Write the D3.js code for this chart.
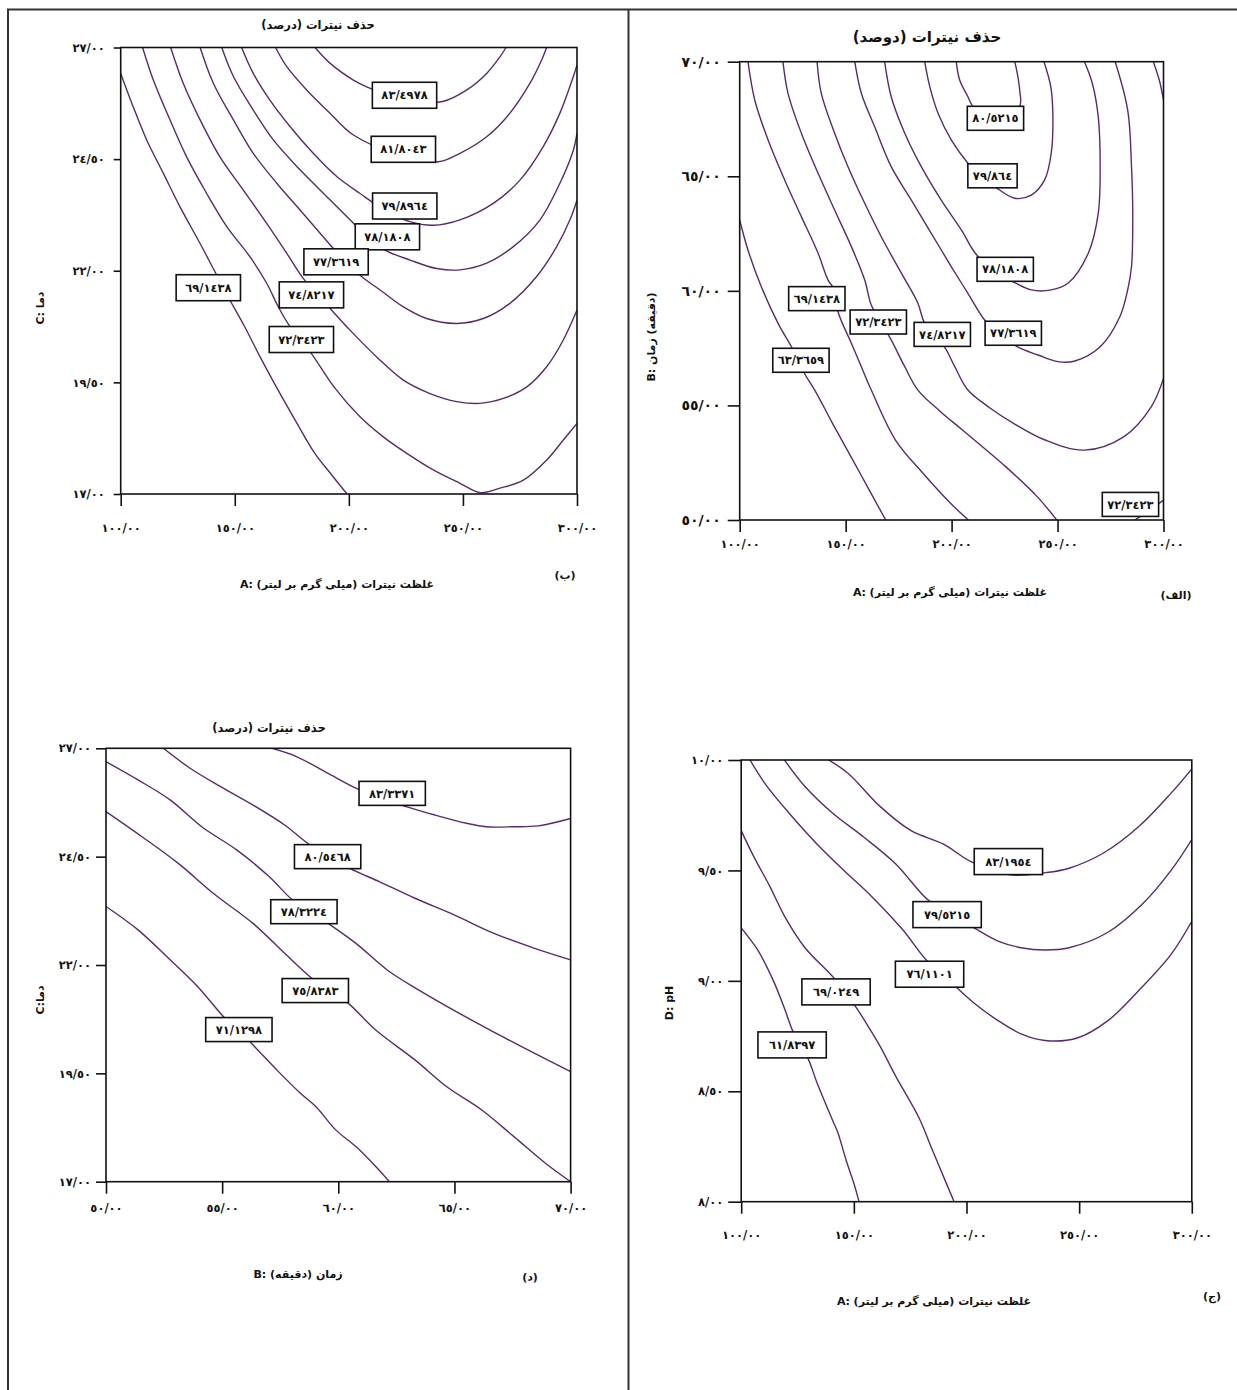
<!DOCTYPE html>
<html>
<head>
<meta charset="utf-8">
<script src="https://cdn.jsdelivr.net/npm/d3@7"></script>
<style>
  body { margin: 0; background: #fff; }
  svg text { font-family: "DejaVu Sans", sans-serif; font-weight: bold; fill: #111; }
</style>
</head>
<body>
<div id="chart"></div>
<script>
// ---- tick values + labels (persian style, "/" as decimal mark)
const ticksA = [100, 150, 200, 250, 300]
const ticksALabels = ['١٠٠/٠٠', '١٥٠/٠٠', '٢٠٠/٠٠', '٢٥٠/٠٠', '٣٠٠/٠٠']
const ticksB = [50, 55, 60, 65, 70]
const ticksBLabels = ['٥٠/٠٠', '٥٥/٠٠', '٦٠/٠٠', '٦٥/٠٠', '٧٠/٠٠']
const ticksC = [17, 19.5, 22, 24.5, 27]
const ticksCLabels = ['١٧/٠٠', '١٩/٥٠', '٢٢/٠٠', '٢٤/٥٠', '٢٧/٠٠']
const ticksD = [8, 8.5, 9, 9.5, 10]
const ticksDLabels = ['٨/٠٠', '٨/٥٠', '٩/٠٠', '٩/٥٠', '١٠/٠٠']

// ---- (الف) A vs B contours, [A, B]
const abC633659 = [[100,63.09],[103.9,61.78],[110.2,60.18],[118.1,58.58],[124.4,57.56],[130.7,56.37],[135.4,55.67],[143.8,54.22],[156.8,52.04],[168.9,50]]
const abC691438 = [[103.9,70],[107.1,68.33],[113.4,66.58],[121.2,64.84],[129.1,63.24],[137.0,61.64],[141.7,60.47],[144.8,60.04],[146.4,59.09],[152.7,57.71],[157.4,56.69],[162.1,55.67],[173.5,53.49],[186.5,52.04],[199.5,50.73],[207.9,50]]
const abC723423 = [[120.4,70],[122.8,68.62],[129.1,66.88],[137.0,65.13],[144.8,63.53],[152.7,61.93],[159.0,60.47],[162.1,59.38],[166.7,58.64],[171.5,57.86],[177.9,56.69],[184.1,55.67],[194.5,54.75],[205.1,53.93],[225.5,52.33],[240.4,51.02],[249.6,50]]
const abC723423b = [[286.5,50],[293.6,50.44],[300,50.87]]
const abC748217 = [[136.5,70],[138.5,68.62],[144.8,66.88],[151.1,65.42],[159.0,63.82],[166.8,62.36],[176.3,60.77],[184.1,59.46],[187.3,58.58],[196.7,57.54],[201.5,56.69],[207.7,55.67],[218.1,54.89],[229.2,54.22],[244.1,53.49],[262.7,53.05],[281.2,53.63],[294.2,54.94],[300,56.18]]
const abC748217b = [[295.2,70],[298.0,69.20],[300,68.33]]
const abC773619 = [[154.3,70],[157.4,68.62],[163.7,67.16],[171.5,65.42],[181.0,63.96],[190.4,62.51],[199.9,61.05],[207.7,59.89],[215.6,58.73],[222.8,58.07],[231.3,57.54],[240.8,57.20],[250.2,56.91],[258.2,56.94],[270.1,57.56],[279.4,58.87],[283.1,60.04],[284.9,61.05],[285.5,63.2],[284.9,65.42],[283.1,67.89],[277.2,70]]
const abC781808 = [[168.4,70],[171.5,68.47],[177.9,66.88],[185.7,65.42],[195.1,63.96],[204.6,62.66],[211.2,61.64],[220.5,60.82],[229.8,60.36],[237.6,60.04],[247.0,60.04],[254.9,60.33],[264.5,61.64],[269.2,63.38],[270.1,65.42],[269.2,67.60],[266.4,69.06],[262.7,70]]
const abC798640 = [[187.3,70],[189.7,68.91],[193.6,67.75],[199.9,66.58],[207.7,65.57],[214.3,64.92],[220.3,64.55],[229.8,64.04],[237.6,64.18],[243.9,64.84],[247.0,66.00],[247.8,67.60],[246.8,68.91],[243.6,70]]
const abC805215 = [[202.2,70],[203.8,69.20],[207.7,68.47],[210.1,68.04],[220.9,67.24],[232.1,68.04],[232.1,68.77],[231.0,69.49],[229.8,70]]
const abLabelText = ['٨٠/٥٢١٥', '٧٩/٨٦٤', '٧٨/١٨٠٨', '٦٩/١٤٣٨', '٧٢/٣٤٢٣', '٧٤/٨٢١٧', '٧٧/٣٦١٩', '٦٣/٣٦٥٩', '٧٢/٣٤٢٣']
const abLabelAt = [[220.7,67.53],[219.3,65.02],[225.3,60.94],[136.4,59.66],[165.4,58.64],[195.6,58.10],[229.1,58.15],[128.9,56.97],[284.4,50.68]]

// ---- (ب) A vs C contours, [A, C]
const acC691438 = [[100,26.42],[105.5,25.67],[111.4,24.93],[118.7,24.18],[126.0,23.43],[134.8,22.61],[142.1,21.90],[147.9,21.34],[154.0,20.78],[161.1,20.07],[168.5,19.37],[176.4,18.66],[184.7,17.94],[192.6,17.42],[199.2,17]]
const acC723423 = [[109.6,27],[114.3,26.27],[121.6,25.38],[128.9,24.55],[137.7,23.73],[146.5,22.99],[156.7,22.31],[164.0,21.72],[169.1,21.19],[174.2,20.75],[183.0,20.19],[193.9,19.37],[204.9,18.73],[215.1,18.28],[225.4,17.91],[237.0,17.54],[248.7,17.24],[257.5,17.03],[266.2,17.13],[276.5,17.31],[286.7,17.76],[294.0,18.21],[300,18.58]]
const acC748217 = [[121.9,27],[127.4,26.20],[134.8,25.38],[143.5,24.55],[153.7,23.81],[164.0,23.06],[172.8,22.39],[180.0,21.83],[191.7,21.16],[200.5,20.67],[212.2,20.07],[223.9,19.55],[235.6,19.25],[247.3,19.07],[257.5,19.03],[267.7,19.14],[278.0,19.40],[286.7,19.85],[294.0,20.45],[300,21.12]]
const acC773619 = [[134.8,27],[140.6,26.20],[149.4,25.38],[158.1,24.63],[168.4,23.96],[178.6,23.36],[187.4,22.84],[193.2,22.50],[204.9,21.90],[213.7,21.57],[223.9,21.19],[234.1,20.93],[247.3,20.82],[258.9,20.93],[270.6,21.27],[282.3,21.87],[291.1,22.54],[296.9,23.14],[300,23.58]]
const acC781808 = [[144.3,27],[149.4,26.35],[158.1,25.60],[166.9,24.93],[178.6,24.26],[190.3,23.66],[200.5,23.14],[208.0,22.76],[215.1,22.48],[226.8,22.24],[238.5,22.05],[248.7,22.02],[260.4,22.17],[272.1,22.54],[283.8,23.14],[292.5,23.96],[298.4,24.70],[300,25.08]]
const acC798964 = [[153.0,27],[158.1,26.42],[165.4,25.82],[174.2,25.23],[184.4,24.63],[194.7,24.11],[204.9,23.73],[215.8,23.36],[226.8,23.10],[237.0,23.02],[248.7,23.14],[263.3,23.51],[275.0,24.03],[285.2,24.78],[292.5,25.53],[298.4,26.35],[300,26.61]]
const acC818043 = [[167.9,27],[172.8,26.57],[181.5,26.05],[191.7,25.53],[202.0,25.04],[222.4,24.59],[239.2,24.44],[248.7,24.63],[260.4,25.00],[270.6,25.53],[279.4,26.20],[284.5,26.72],[286.7,27]]
const acC834978 = [[185.2,27],[191.7,26.65],[202.0,26.27],[207.8,26.12],[224.6,25.82],[241.1,25.79],[251.7,26.05],[260.4,26.42],[266.2,26.79],[268.9,27]]
const acLabelText = ['٨٣/٤٩٧٨', '٨١/٨٠٤٣', '٧٩/٨٩٦٤', '٧٨/١٨٠٨', '٧٧/٣٦١٩', '٧٤/٨٢١٧', '٦٩/١٤٣٨', '٧٢/٣٤٢٣']
const acLabelAt = [[224.4,25.93],[223.9,24.72],[224.5,23.45],[216.9,22.76],[194.4,22.20],[183.6,21.46],[138.4,21.62],[179.2,20.46]]

// ---- (ج) A vs D contours, [A, D]
const adC831954 = [[138.8,10],[147.4,9.94],[161.6,9.79],[175.4,9.68],[189.6,9.62],[202.0,9.54],[219.3,9.48],[235.3,9.49],[245.5,9.51],[261.0,9.58],[276.6,9.70],[290.8,9.85],[300,9.96]]
const adC795215 = [[119.2,10],[128.3,9.88],[140.5,9.76],[154.5,9.65],[168.5,9.53],[182.5,9.37],[192.7,9.30],[203.3,9.24],[214.0,9.18],[224.2,9.15],[234.8,9.14],[245.5,9.15],[262.8,9.22],[278.3,9.35],[290.8,9.50],[300,9.64]]
const adC761101 = [[103.9,10],[110.8,9.89],[121.2,9.76],[133.6,9.62],[145.6,9.50],[158.1,9.38],[171.8,9.23],[182.5,9.09],[195.6,8.97],[203.3,8.90],[214.0,8.82],[224.2,8.76],[234.8,8.73],[248.8,8.74],[262.8,8.82],[276.8,8.96],[290.8,9.12],[300,9.27]]
const adC690249 = [[100,9.68],[105.7,9.56],[112.6,9.43],[119.4,9.29],[128.3,9.15],[141.4,9.01],[151.0,8.88],[157.2,8.78],[162.4,8.69],[168.5,8.57],[178.9,8.38],[184.2,8.25],[188.7,8.14],[194.5,8]]
const adC618397 = [[100,9.24],[107.3,9.14],[114.3,9.00],[119.4,8.87],[123.0,8.77],[129.6,8.65],[133.6,8.54],[140.5,8.37],[143.0,8.31],[146.5,8.19],[150.1,8.08],[152.3,8]]
const adLabelText = ['٨٣/١٩٥٤', '٧٩/٥٢١٥', '٧٦/١١٠١', '٦٩/٠٢٤٩', '٦١/٨٣٩٧']
const adLabelAt = [[218.6,9.54],[191.4,9.30],[183.6,9.03],[142.1,8.95],[122.6,8.71]]

// ---- (د) B vs C contours, [B, C]
const bcC833371 = [[57.15,27],[58.20,26.81],[59.56,26.42],[60.76,26.08],[61.8,25.85],[62.96,25.65],[64.16,25.46],[65.52,25.27],[66.36,25.19],[67.56,25.19],[68.60,25.21],[70,25.38]]
const bcC805468 = [[52.47,27],[53.62,26.54],[54.95,26.11],[56.33,25.69],[57.69,25.23],[58.78,24.77],[59.7,24.5],[60.50,24.23],[61.78,23.92],[63.30,23.54],[65.01,23.15],[66.70,22.73],[68.42,22.39],[70,22.12]]
const bcC783224 = [[50,26.69],[51.38,26.27],[52.76,25.81],[54.12,25.19],[55.64,24.65],[57.02,24.04],[58.03,23.50],[58.8,23.23],[59.56,22.96],[60.76,22.50],[62.12,21.88],[63.47,21.42],[65.02,20.94],[66.53,20.50],[67.91,20.11],[70,19.54]]
const bcC758383 = [[50,25.54],[51.55,24.96],[53.10,24.35],[54.63,23.65],[56.33,22.96],[57.69,22.27],[58.78,21.73],[59.6,21.42],[60.42,21.12],[61.61,20.50],[63.30,19.81],[64.67,19.19],[66.19,18.65],[67.56,18.04],[68.93,17.42],[70,17]]
const bcC711298 = [[50,23.35],[51.38,22.81],[52.76,22.12],[53.95,21.50],[55.12,20.77],[55.8,20.44],[56.41,20.11],[57.35,19.58],[58.37,19.04],[59.04,18.73],[59.90,18.19],[60.76,17.81],[61.61,17.35],[62.20,17]]
const bcLabelText = ['٨٣/٣٣٧١', '٨٠/٥٤٦٨', '٧٨/٣٢٢٤', '٧٥/٨٣٨٣', '٧١/١٢٩٨']
const bcLabelAt = [[62.32,25.96],[59.54,24.50],[58.52,23.23],[59.01,21.41],[55.72,20.51]]

// ---- page
const W = 1237, H = 1390
const svg = d3.select('#chart').append('svg')
              .attr('width', W)
              .attr('height', H)

// frame lines (top, left, middle)
const frame = svg.append('g').attr('stroke', '#333').attr('stroke-width', 2)
frame.append('line').attr('x1', 7).attr('x2', W).attr('y1', 9.5).attr('y2', 9.5)
frame.append('line').attr('x1', 8).attr('x2', 8).attr('y1', 9).attr('y2', H)
frame.append('line').attr('x1', 628.5).attr('x2', 628.5).attr('y1', 9).attr('y2', H)

const lineColor = '#5a2b6c'
let clipId = 0

function drawPanel(p) {
  const x = d3.scaleLinear().domain(p.xDomain).range([p.left, p.right])
  const y = d3.scaleLinear().domain(p.yDomain).range([p.bottom, p.top])
  const g = svg.append('g')

  const id = 'clip' + (clipId++)
  g.append('clipPath').attr('id', id)
   .append('rect')
   .attr('x', p.left).attr('y', p.top)
   .attr('width', p.right - p.left).attr('height', p.bottom - p.top)

  const line = d3.line()
                 .x(d => x(d[0]))
                 .y(d => y(d[1]))
                 .curve(d3.curveCatmullRom.alpha(0.5))

  g.append('g')
   .attr('clip-path', 'url(#' + id + ')')
   .selectAll('path')
   .data(p.contours)
   .enter()
   .append('path')
   .attr('d', line)
   .attr('fill', 'none')
   .attr('stroke', lineColor)
   .attr('stroke-width', 1.4)

  // box
  g.append('rect')
   .attr('x', p.left).attr('y', p.top)
   .attr('width', p.right - p.left).attr('height', p.bottom - p.top)
   .attr('fill', 'none')
   .attr('stroke', '#111')
   .attr('stroke-width', 1.6)

  // axes
  const styleAxis = (sel, size) => {
    sel.select('.domain').remove()
    sel.attr('font-family', null).attr('font-size', null)
    sel.selectAll('line').attr('stroke', '#111').attr('stroke-width', 1.6)
    sel.selectAll('text').attr('font-size', size + 'px').attr('fill', '#111')
  }

  g.append('g')
   .attr('transform', 'translate(' + p.left + ',0)')
   .call(d3.axisLeft(y)
           .tickValues(p.yTicks)
           .tickFormat((d, i) => p.yTickLabels[i])
           .tickSize(p.yTickLen)
           .tickPadding(p.yTickPad))
   .call(sel => styleAxis(sel, p.yTickSize))

  g.append('g')
   .attr('transform', 'translate(0,' + p.bottom + ')')
   .call(d3.axisBottom(x)
           .tickValues(p.xTicks)
           .tickFormat((d, i) => p.xTickLabels[i])
           .tickSize(12)
           .tickPadding(p.xTickPad))
   .call(sel => styleAxis(sel, p.xTickSize))

  // contour labels
  const labels = p.labelText.map((t, i) => ({ text: t, at: p.labelAt[i] }))
  const lab = g.selectAll('g.lab')
               .data(labels)
               .enter()
               .append('g')
               .attr('class', 'lab')
               .attr('transform', d => 'translate(' + x(d.at[0]) + ',' + y(d.at[1]) + ')')
  lab.append('text')
     .attr('text-anchor', 'middle')
     .attr('dy', '0.36em')
     .attr('font-size', p.labelSize + 'px')
     .text(d => d.text)
  lab.each(function() {
    const bb = d3.select(this).select('text').node().getBBox()
    d3.select(this).insert('rect', 'text')
      .attr('x', -bb.width / 2 - p.padX)
      .attr('y', -p.boxH / 2)
      .attr('width', bb.width + 2 * p.padX)
      .attr('height', p.boxH)
      .attr('fill', '#fff')
      .attr('stroke', '#111')
      .attr('stroke-width', 1.6)
  })

  // titles
  if (p.title) {
    g.append('text')
     .attr('x', p.title.x).attr('y', p.title.y)
     .attr('text-anchor', 'middle').attr('dy', '0.35em')
     .attr('direction', 'rtl')
     .attr('font-size', p.title.size + 'px')
     .text(p.title.text)
  }
  g.append('text')
   .attr('x', p.xTitle.x).attr('y', p.xTitle.y)
   .attr('text-anchor', 'middle').attr('dy', '0.35em')
   .attr('direction', 'rtl')
   .attr('font-size', '11px')
   .text(p.xTitle.text)
  g.append('text')
   .attr('transform', 'translate(' + p.yTitle.x + ',' + p.yTitle.y + ') rotate(-90)')
   .attr('text-anchor', 'middle').attr('dy', '0.35em')
   .attr('direction', p.yTitle.dir)
   .attr('font-size', '11px')
   .text(p.yTitle.text)
  g.append('text')
   .attr('x', p.tag.x).attr('y', p.tag.y)
   .attr('text-anchor', 'middle').attr('dy', '0.35em')
   .attr('direction', 'rtl')
   .attr('font-size', '11px')
   .text(p.tag.text)
}

const concTitle = 'غلظت نیترات (میلی گرم بر لیتر) :A'

// (ب) top left
drawPanel({
  left: 120.7, right: 577, top: 47.5, bottom: 494,
  xDomain: [100, 300], yDomain: [17, 27],
  xTicks: ticksA, xTickLabels: ticksALabels, yTicks: ticksC, yTickLabels: ticksCLabels,
  yTickLen: 7, yTickPad: 9, xTickPad: 18, yTickSize: 11.5, xTickSize: 11.5,
  contours: [acC691438, acC723423, acC748217, acC773619, acC781808, acC798964, acC818043, acC834978],
  labelText: acLabelText, labelAt: acLabelAt, labelSize: 11.5, padX: 9, boxH: 26,
  title: { text: 'حذف نیترات (درصد)', x: 318, y: 25, size: 11.5 },
  xTitle: { text: concTitle, x: 337, y: 584 },
  yTitle: { text: 'دما :C', x: 40, y: 308, dir: 'rtl' },
  tag: { text: '(ب)', x: 565, y: 575 }
})

// (الف) top right
drawPanel({
  left: 739.7, right: 1163.5, top: 61.7, bottom: 520,
  xDomain: [100, 300], yDomain: [50, 70],
  xTicks: ticksA, xTickLabels: ticksALabels, yTicks: ticksB, yTickLabels: ticksBLabels,
  yTickLen: 12, yTickPad: 7, xTickPad: 8, yTickSize: 14, xTickSize: 11.5,
  contours: [abC633659, abC691438, abC723423, abC723423b, abC748217, abC748217b, abC773619, abC781808, abC798640, abC805215],
  labelText: abLabelText, labelAt: abLabelAt, labelSize: 11.5, padX: 5, boxH: 24,
  title: { text: 'حذف نیترات (دوصد)', x: 927, y: 37, size: 15 },
  xTitle: { text: concTitle, x: 950, y: 592 },
  yTitle: { text: '(دقیقه) زمان :B', x: 651, y: 337, dir: 'rtl' },
  tag: { text: '(الف)', x: 1176, y: 595 }
})

// (د) bottom left
drawPanel({
  left: 106, right: 570.6, top: 748.3, bottom: 1181.7,
  xDomain: [50, 70], yDomain: [17, 27],
  xTicks: ticksB, xTickLabels: ticksBLabels, yTicks: ticksC, yTickLabels: ticksCLabels,
  yTickLen: 10, yTickPad: 5, xTickPad: 10, yTickSize: 11.5, xTickSize: 11.5,
  contours: [bcC833371, bcC805468, bcC783224, bcC758383, bcC711298],
  labelText: bcLabelText, labelAt: bcLabelAt, labelSize: 11.5, padX: 10, boxH: 24,
  title: { text: 'حذف نیترات (درصد)', x: 269, y: 728, size: 11.5 },
  xTitle: { text: 'زمان (دقیقه) :B', x: 298, y: 1274 },
  yTitle: { text: 'دما:C', x: 40, y: 1000, dir: 'rtl' },
  tag: { text: '(د)', x: 530, y: 1277 }
})

// (ج) bottom right
drawPanel({
  left: 741.2, right: 1191.8, top: 760, bottom: 1201.7,
  xDomain: [100, 300], yDomain: [8, 10],
  xTicks: ticksA, xTickLabels: ticksALabels, yTicks: ticksD, yTickLabels: ticksDLabels,
  yTickLen: 13, yTickPad: 5, xTickPad: 17, yTickSize: 11.5, xTickSize: 11.5,
  contours: [adC831954, adC795215, adC761101, adC690249, adC618397],
  labelText: adLabelText, labelAt: adLabelAt, labelSize: 11.5, padX: 11, boxH: 26,
  title: null,
  xTitle: { text: concTitle, x: 934, y: 1301 },
  yTitle: { text: 'D: pH', x: 669, y: 1003, dir: 'ltr' },
  tag: { text: '(ج)', x: 1212, y: 1296 }
})
</script>
</body>
</html>
